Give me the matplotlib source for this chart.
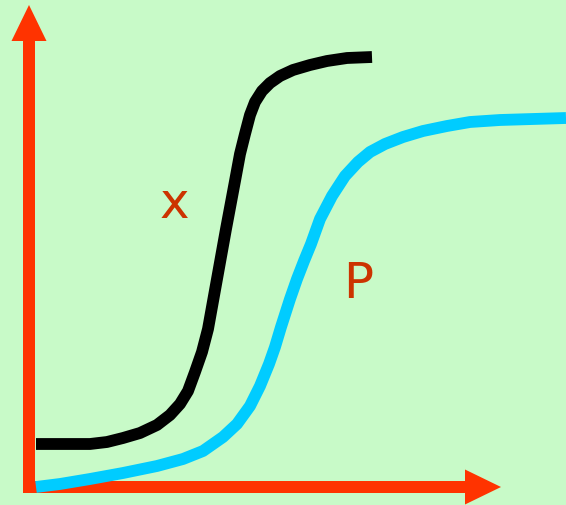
import matplotlib
matplotlib.use("Agg")
import matplotlib.pyplot as plt
from matplotlib.patches import FancyArrow

x_curve_x = [36, 90, 107, 123, 140, 157, 170, 180, 188, 195, 202, 208, 217, 226,
             235, 240, 245, 250, 255, 262, 270, 280, 293, 310, 327, 347, 372]
x_curve_y = [61, 61, 63, 67, 72, 80, 90, 101, 114, 133, 153, 176, 226, 276,
             324, 351, 371, 390, 403, 414, 422, 429, 435, 440, 444, 447, 448]

p_curve_x = [36, 60, 90, 123, 157, 183, 203, 223, 237, 250, 260, 269, 275, 281, 290,
             297, 304, 311, 320, 332, 345, 358, 370, 385, 403, 423, 447, 470, 500, 566]
p_curve_y = [18, 21, 26, 32, 39, 46, 54, 68, 81, 99, 119, 141, 158, 178, 206,
             226, 244, 261, 286, 309, 329, 343, 353, 361, 368, 374, 379, 383, 385, 387]

labels = ["x", "P"]
label_pos = [(174.5, 301.5), (358, 222)]

BG = "#c8fac8"
RED = "#ff3300"
CYAN = "#00ccff"
TEXT = "#cc3300"

fig = plt.figure(figsize=(5.66, 5.06), dpi=100, facecolor=BG)
ax = fig.add_axes([0, 0, 1, 1])
ax.set_facecolor(BG)
ax.set_xlim(0, 566)
ax.set_ylim(0, 506)
ax.axis("off")

# the two axis arrows
arrow_kw = dict(width=12, head_width=35, head_length=36,
                length_includes_head=True, color=RED, lw=0)
ax.add_patch(FancyArrow(29, 12, 0, 488, **arrow_kw))
ax.add_patch(FancyArrow(24, 18, 477, 0, **arrow_kw))

ax.plot(x_curve_x, x_curve_y, color="black", lw=8.5,
        solid_capstyle="butt", solid_joinstyle="round")
ax.plot(p_curve_x, p_curve_y, color=CYAN, lw=8.5,
        solid_capstyle="butt", solid_joinstyle="round")

for text, (tx, ty) in zip(labels, label_pos):
    ax.text(tx, ty, text, color=TEXT, fontsize=36, ha="center", va="center")

fig.savefig("out.png", dpi=100, facecolor=BG)
